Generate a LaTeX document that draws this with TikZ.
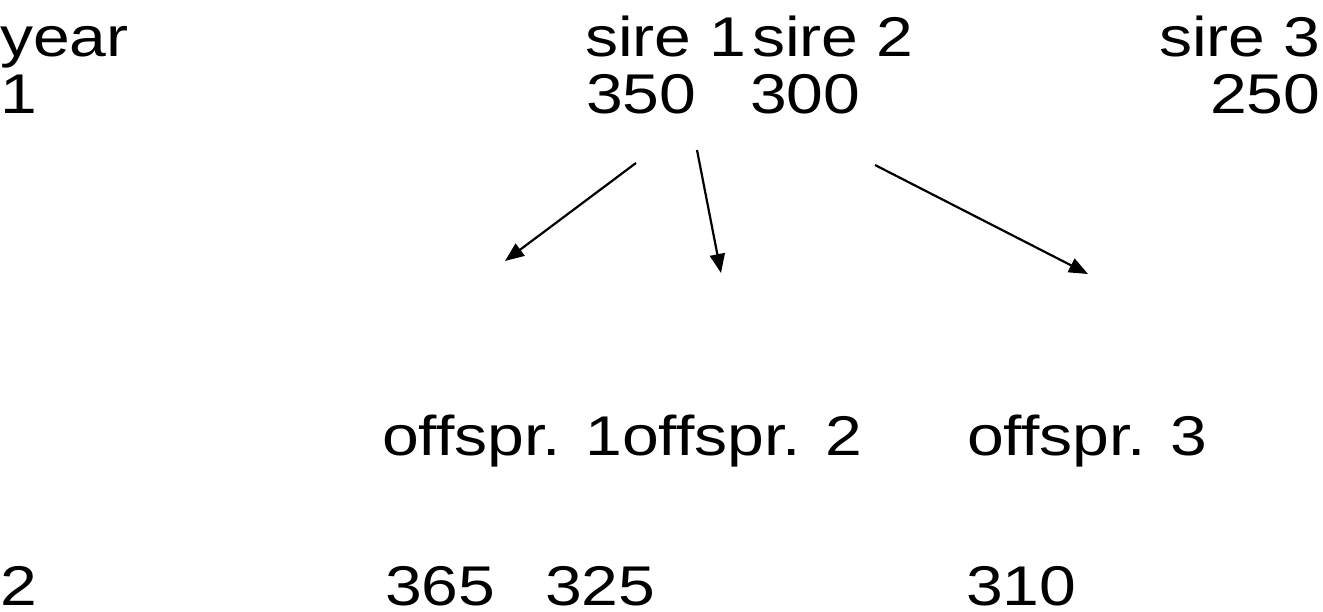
\documentclass[tikz,border=0pt]{standalone}
\usepackage{fontspec}
\setmainfont[FakeStretch=1.18]{Liberation Sans}
\usetikzlibrary{arrows.meta}
\begin{document}
\begin{tikzpicture}[x=1pt,y=-1pt,
  lbl/.style={anchor=base west,inner sep=0pt,font=\fontsize{56}{67}\selectfont},
  link/.style={line width=2.2pt,-{Triangle[length=19pt,width=15pt]}}]
\useasboundingbox (0,0) rectangle (1323,612);
% header row
\node[lbl] (year) at (0,57) {year};
\node[lbl] (sA) at (585,57) {sire 1};
\node[lbl] (sB) at (752,57) {sire 2};
\node[lbl] (sC) at (1159,57) {sire 3};
% year 1 values
\node[lbl] (y1) at (0,114) {1};
\node[lbl] (v350) at (586,114) {350};
\node[lbl] (v300) at (750,114) {300};
\node[lbl] (v250) at (1210,114) {250};
% offspring
\node[lbl] (oAB) at (382,455) {offspr. 1offspr. 2};
\node[lbl] (oC) at (967,455) {offspr. 3};
% year 2 values
\node[lbl] (y2) at (0,605) {2};
\node[lbl] (v365) at (385,605) {365};
\node[lbl] (v325) at (545,605) {325};
\node[lbl] (v310) at (966,605) {310};
% arrow ends
\coordinate (a1s) at (636,163);
\coordinate (a1e) at (505,261);
\coordinate (a2s) at (697,150);
\coordinate (a2e) at (721,273);
\coordinate (a3s) at (875,165);
\coordinate (a3e) at (1088,274);
\draw[link] (a1s) -- (a1e);
\draw[link] (a2s) -- (a2e);
\draw[link] (a3s) -- (a3e);
\end{tikzpicture}
\end{document}
